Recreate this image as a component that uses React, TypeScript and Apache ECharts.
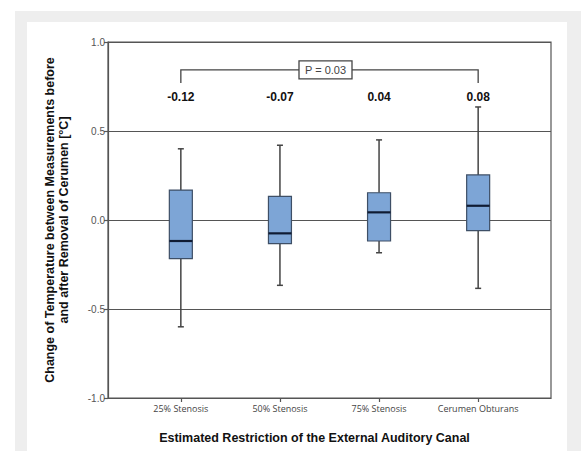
import React, { useEffect, useRef } from "react";
import * as echarts from "echarts";

const categories = ["25% Stenosis", "50% Stenosis", "75% Stenosis", "Cerumen Obturans"];
const whiskerMin = [-0.6, -0.367, -0.184, -0.384];
const q1 = [-0.217, -0.133, -0.118, -0.06];
const median = [-0.118, -0.075, 0.043, 0.08];
const q3 = [0.168, 0.133, 0.153, 0.253];
const whiskerMax = [0.4, 0.42, 0.45, 0.635];
const medianLabels = ["-0.12", "-0.07", "0.04", "0.08"];
const yTicks = [-1.0, -0.5, 0.0, 0.5, 1.0];
const pText = "P = 0.03";

export default function App() {
  const ref = useRef<HTMLDivElement>(null);
  useEffect(() => {
    if (!ref.current) return;
    const chart = echarts.init(ref.current, null, { renderer: "svg" });
    const boxData = categories.map((_, i) => [i + 1, whiskerMin[i], q1[i], median[i], q3[i], whiskerMax[i], i]);
    const option: any = {
      animation: false,
      backgroundColor: "transparent",
      grid: { left: 108, right: 30, top: 42, bottom: 53, show: true, borderColor: "#555", borderWidth: 1.2, containLabel: false },
      xAxis: {
        type: "value",
        min: 0.265,
        max: 4.735,
        name: "Estimated Restriction of the External Auditory Canal",
        nameLocation: "middle",
        nameGap: 33,
        nameTextStyle: { fontFamily: "Liberation Sans", fontWeight: "bold", fontSize: 12.5, color: "#111", padding: [0, 30, 0, 0] },
        axisLine: { show: true, onZero: false, lineStyle: { color: "#555", width: 1.2 } },
        axisTick: { show: true, customValues: [1, 2, 3, 4], length: 4, lineStyle: { color: "#555", width: 1.2 } },
        axisLabel: {
          customValues: [1, 2, 3, 4],
          formatter: (v: number) => categories[Math.round(v) - 1] ?? "",
          fontFamily: "Open Sans",
          fontSize: 9,
          color: "#444",
          margin: 6,
        },
        splitLine: { show: false },
      },
      yAxis: {
        type: "value",
        min: -1.0,
        max: 1.0,
        interval: 0.5,
        name: "Change of Temperature between Measurements before\nand after Removal of Cerumen [°C]",
        nameLocation: "middle",
        nameGap: 37,
        nameTextStyle: { fontFamily: "Liberation Sans", fontWeight: "bold", fontSize: 12.5, color: "#111", lineHeight: 14 },
        axisLine: { show: true, lineStyle: { color: "#555", width: 1.2 } },
        axisTick: { show: true, length: 4, lineStyle: { color: "#555", width: 1.2 } },
        axisLabel: {
          formatter: (v: number) => (yTicks.includes(v) ? v.toFixed(1) : ""),
          fontFamily: "Liberation Sans",
          fontSize: 10,
          color: "#555",
          margin: 3,
        },
        splitLine: { show: true, lineStyle: { color: "#555", width: 1.2 } },
      },
      series: [
        {
          type: "custom",
          data: boxData,
          encode: { x: 0, y: [1, 2, 3, 4, 5] },
          renderItem: (params: any, api: any) => {
            const x = api.value(0);
            const pMin = api.coord([x, api.value(1)]);
            const pQ1 = api.coord([x, api.value(2)]);
            const pMed = api.coord([x, api.value(3)]);
            const pQ3 = api.coord([x, api.value(4)]);
            const pMax = api.coord([x, api.value(5)]);
            const idx = api.value(6);
            const pLabel = api.coord([x, 0.69]);
            const hw = 11.5;
            const cw = 3;
            const lineStyle = { stroke: "#444", lineWidth: 1.5 };
            return {
              type: "group",
              children: [
                { type: "line", shape: { x1: pMax[0], y1: pMax[1], x2: pQ3[0], y2: pQ3[1] }, style: lineStyle },
                { type: "line", shape: { x1: pMin[0], y1: pMin[1], x2: pQ1[0], y2: pQ1[1] }, style: lineStyle },
                { type: "line", shape: { x1: pMax[0] - cw, y1: pMax[1], x2: pMax[0] + cw, y2: pMax[1] }, style: lineStyle },
                { type: "line", shape: { x1: pMin[0] - cw, y1: pMin[1], x2: pMin[0] + cw, y2: pMin[1] }, style: lineStyle },
                {
                  type: "rect",
                  shape: { x: pQ3[0] - hw, y: pQ3[1], width: hw * 2, height: pQ1[1] - pQ3[1] },
                  style: { fill: "#7da5d6", stroke: "#3e4f66", lineWidth: 1.2 },
                },
                { type: "line", shape: { x1: pMed[0] - hw, y1: pMed[1], x2: pMed[0] + hw, y2: pMed[1] }, style: { stroke: "#0f1b33", lineWidth: 2.2 } },
                {
                  type: "text",
                  x: pLabel[0],
                  y: pLabel[1],
                  style: {
                    text: medianLabels[idx],
                    fontFamily: "Liberation Sans",
                    fontWeight: "bold",
                    fontSize: 12,
                    fill: "#111",
                    align: "center",
                    verticalAlign: "middle",
                  },
                },
              ],
            };
          },
          z: 5,
        },
        {
          type: "custom",
          data: [[1, 4, 0.843, 0.77]],
          encode: { x: [0, 1], y: [2, 3] },
          renderItem: (params: any, api: any) => {
            const a = api.coord([api.value(0), api.value(2)]);
            const b = api.coord([api.value(1), api.value(2)]);
            const a2 = api.coord([api.value(0), api.value(3)]);
            const b2 = api.coord([api.value(1), api.value(3)]);
            const cx = (a[0] + b[0]) / 2 - 4;
            const style = { stroke: "#444", lineWidth: 1.3, fill: null };
            return {
              type: "group",
              children: [
                { type: "polyline", shape: { points: [[a2[0], a2[1]], [a[0], a[1]], [b[0], b[1]], [b2[0], b2[1]]] }, style },
                { type: "rect", shape: { x: cx - 26.5, y: a[1] - 9, width: 53, height: 18 }, style: { fill: "#fff", stroke: "#444", lineWidth: 1.3 } },
                {
                  type: "text",
                  x: cx,
                  y: a[1],
                  style: { text: pText, fontFamily: "Liberation Sans", fontSize: 11, fill: "#444", align: "center", verticalAlign: "middle" },
                },
              ],
            };
          },
          z: 6,
        },
      ],
    };
    chart.setOption(option);
    return () => chart.dispose();
  }, []);

  return (
    <div style={{ position: "fixed", left: 0, top: 0, width: 581, height: 451, background: "#fff" }}>
      <div style={{ position: "absolute", left: 15, top: 11, width: 566, height: 440, background: "#eeeeee" }} />
      <div style={{ position: "absolute", left: 27, top: 22, width: 540, height: 429, background: "#ffffff" }} />
      <div ref={ref} style={{ position: "absolute", left: 0, top: 0, width: 581, height: 451 }} />
    </div>
  );
}
